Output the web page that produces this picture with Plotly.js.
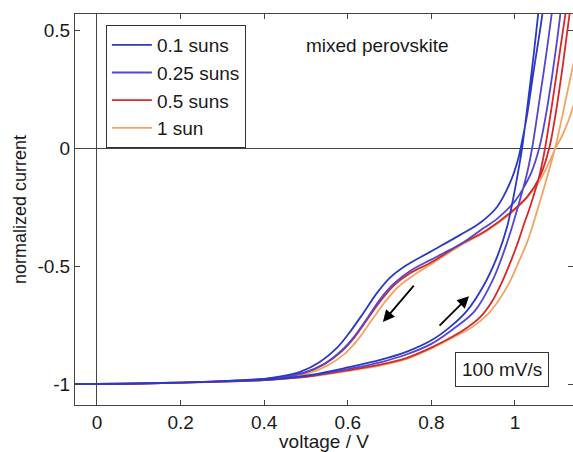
<!DOCTYPE html>
<html>
<head>
<meta charset="utf-8">
<script src="https://cdn.plot.ly/plotly-3.0.1.min.js"></script>
<style>html,body{margin:0;padding:0;background:#fff;}#chart{width:573px;height:452px;}</style>
</head>
<body>
<div id="chart"></div>
<script>
// ---- data ----
const seriesNames = ["0.1 suns", "0.25 suns", "0.5 suns", "1 sun"];
const seriesColors = ["#2a3ac4", "#5346d2", "#d82828", "#f2a464"];

// forward scans (low V -> high V)
const fwdV_01 = [-0.055, 0, 0.1, 0.2, 0.3, 0.4, 0.45, 0.517, 0.6, 0.68, 0.74, 0.8, 0.845, 0.885, 0.923, 0.957, 0.981, 0.995, 1.007, 1.017, 1.03, 1.045, 1.055, 1.07];
const fwdI_01 = [-1.0, -1.0, -0.998, -0.994, -0.989, -0.982, -0.975, -0.96, -0.93, -0.897, -0.864, -0.815, -0.758, -0.69, -0.589, -0.462, -0.335, -0.22, -0.106, 0.0, 0.18, 0.4, 0.56, 0.8];
const fwdV_025 = [-0.055, 0, 0.1, 0.2, 0.3, 0.4, 0.45, 0.517, 0.6, 0.68, 0.74, 0.8, 0.85, 0.904, 0.947, 0.983, 1.007, 1.029, 1.041, 1.06, 1.075, 1.09, 1.105];
const fwdI_025 = [-1.0, -1.0, -0.998, -0.994, -0.989, -0.983, -0.976, -0.963, -0.937, -0.907, -0.875, -0.83, -0.77, -0.69, -0.559, -0.39, -0.25, -0.106, 0.0, 0.22, 0.4, 0.6, 0.85];
const fwdV_05 = [-0.055, 0, 0.1, 0.2, 0.3, 0.4, 0.45, 0.517, 0.6, 0.677, 0.74, 0.797, 0.85, 0.885, 0.916, 0.945, 0.971, 0.99, 1.007, 1.022, 1.036, 1.06, 1.072, 1.09, 1.105, 1.12, 1.14, 1.16];
const fwdI_05 = [-1.0, -1.0, -0.998, -0.994, -0.99, -0.983, -0.977, -0.965, -0.942, -0.918, -0.89, -0.848, -0.8, -0.762, -0.718, -0.65, -0.56, -0.48, -0.4, -0.32, -0.25, -0.106, 0.0, 0.2, 0.38, 0.56, 0.82, 1.1];
const fwdV_1 = [-0.055, 0, 0.1, 0.2, 0.3, 0.4, 0.45, 0.517, 0.6, 0.677, 0.74, 0.797, 0.85, 0.895, 0.933, 0.96, 0.988, 1.01, 1.029, 1.042, 1.055, 1.077, 1.096, 1.115, 1.14, 1.16, 1.18];
const fwdI_1 = [-1.0, -1.0, -0.998, -0.995, -0.99, -0.984, -0.978, -0.967, -0.945, -0.922, -0.895, -0.852, -0.805, -0.762, -0.708, -0.648, -0.565, -0.478, -0.4, -0.33, -0.255, -0.123, 0.0, 0.15, 0.36, 0.52, 0.7];

// reverse scans (high V -> low V)
const revV_01 = [1.085, 1.065, 1.045, 1.028, 1.017, 1.007, 0.988, 0.957, 0.916, 0.868, 0.797, 0.741, 0.70, 0.67, 0.637, 0.605, 0.574, 0.533, 0.486, 0.44, 0.4, 0.3, 0.2, 0.1, 0, -0.055];
const revI_01 = [0.85, 0.56, 0.33, 0.13, 0.03, -0.051, -0.148, -0.25, -0.318, -0.369, -0.44, -0.496, -0.551, -0.614, -0.70, -0.78, -0.847, -0.907, -0.949, -0.968, -0.978, -0.988, -0.994, -0.997, -1.0, -1.0];
const revV_025 = [1.125, 1.108, 1.09, 1.072, 1.058, 1.04, 1.02, 1.0, 0.957, 0.92, 0.876, 0.83, 0.797, 0.75, 0.71, 0.68, 0.647, 0.615, 0.584, 0.543, 0.495, 0.45, 0.4, 0.3, 0.2, 0.1, 0, -0.055];
const revI_025 = [0.85, 0.56, 0.32, 0.12, 0.0, -0.1, -0.17, -0.225, -0.3, -0.345, -0.4, -0.445, -0.475, -0.52, -0.575, -0.635, -0.72, -0.8, -0.86, -0.915, -0.952, -0.969, -0.979, -0.988, -0.994, -0.997, -1.0, -1.0];
const revV_05 = [1.16, 1.13, 1.112, 1.095, 1.082, 1.06, 1.029, 0.988, 0.933, 0.868, 0.797, 0.75, 0.712, 0.682, 0.649, 0.617, 0.586, 0.545, 0.498, 0.45, 0.4, 0.3, 0.2, 0.1, 0, -0.055];
const revI_05 = [1.0, 0.56, 0.32, 0.12, 0.0, -0.12, -0.207, -0.275, -0.347, -0.41, -0.487, -0.53, -0.58, -0.64, -0.72, -0.8, -0.86, -0.915, -0.952, -0.97, -0.98, -0.989, -0.994, -0.997, -1.0, -1.0];
const revV_1 = [1.2, 1.18, 1.14, 1.115, 1.097, 1.084, 1.06, 1.029, 0.988, 0.933, 0.868, 0.797, 0.757, 0.72, 0.69, 0.657, 0.625, 0.594, 0.553, 0.505, 0.45, 0.4, 0.3, 0.2, 0.1, 0, -0.055];
const revI_1 = [0.8, 0.5, 0.18, 0.06, 0.0, -0.051, -0.136, -0.21, -0.28, -0.35, -0.415, -0.495, -0.54, -0.59, -0.65, -0.73, -0.81, -0.87, -0.92, -0.955, -0.971, -0.981, -0.989, -0.994, -0.997, -1.0, -1.0];

const xTickVals = [0, 0.2, 0.4, 0.6, 0.8, 1];
const xTickText = ["0", "0.2", "0.4", "0.6", "0.8", "1"];
const yTickVals = [-1, -0.5, 0, 0.5];
const yTickText = ["-1", "-0.5", "0", "0.5"];

// ---- build traces ----
const fwdV = [fwdV_01, fwdV_025, fwdV_05, fwdV_1];
const fwdI = [fwdI_01, fwdI_025, fwdI_05, fwdI_1];
const revV = [revV_01, revV_025, revV_05, revV_1];
const revI = [revI_01, revI_025, revI_05, revI_1];

const traces = [];
// draw 1 sun first so blue ends on top
for (let k = 3; k >= 0; k--) {
  traces.push({
    x: fwdV[k].concat(revV[k]),
    y: fwdI[k].concat(revI[k]),
    type: "scatter",
    mode: "lines",
    name: seriesNames[k],
    line: {color: seriesColors[k], width: 1.8, shape: "spline", smoothing: 1.0}
  });
}

const fam = "Liberation Sans, Arial, Helvetica, sans-serif";
const font = {family: fam, size: 19, color: "#1a1a1a"};

const layout = {
  width: 573, height: 452,
  margin: {l: 75, r: 0, t: 14, b: 47},
  paper_bgcolor: "#fff", plot_bgcolor: "#fff",
  font: font,
  showlegend: true,
  legend: {
    x: 0.062, y: 0.972, xanchor: "left", yanchor: "top",
    traceorder: "reversed",
    bordercolor: "#333", borderwidth: 1, bgcolor: "#fff",
    font: {family: fam, size: 19, color: "#1a1a1a"}, tracegroupgap: 0, itemwidth: 40
  },
  xaxis: {
    range: [-0.0526, 1.1388],
    tickvals: xTickVals, ticktext: xTickText,
    ticks: "inside", ticklen: 5, tickcolor: "#444",
    showline: true, linecolor: "#444", linewidth: 1, mirror: "ticks",
    showgrid: false, zeroline: true, zerolinecolor: "#444", zerolinewidth: 1,
    tickfont: font,
    title: {text: "voltage / V", font: font, standoff: 2}
  },
  yaxis: {
    range: [-1.089, 0.568],
    tickvals: yTickVals, ticktext: yTickText,
    ticks: "inside", ticklen: 5, tickcolor: "#444",
    showline: true, linecolor: "#444", linewidth: 1, mirror: "ticks",
    showgrid: false, zeroline: true, zerolinecolor: "#444", zerolinewidth: 1,
    tickfont: font,
    title: {text: "normalized current", font: {family: fam, size: 18, color: "#1a1a1a"}, standoff: 6}
  },
  annotations: [
    {x: 0.67, y: 0.436, xref: "x", yref: "y", text: "mixed perovskite", showarrow: false,
     font: {family: fam, size: 19, color: "#1a1a1a"}},
    {x: 0.969, y: -0.94, xref: "x", yref: "y", text: "100 mV/s", showarrow: false, font: font,
     bordercolor: "#333", borderwidth: 1, borderpad: 6, bgcolor: "#fff"},
    {x: 0.684, y: -0.737, ax: 0.761, ay: -0.577, xref: "x", yref: "y", axref: "x", ayref: "y",
     text: "", showarrow: true, arrowhead: 2, arrowsize: 1.3, arrowwidth: 1.8, arrowcolor: "#000"},
    {x: 0.890, y: -0.628, ax: 0.816, ay: -0.759, xref: "x", yref: "y", axref: "x", ayref: "y",
     text: "", showarrow: true, arrowhead: 2, arrowsize: 1.3, arrowwidth: 1.8, arrowcolor: "#000"}
  ]
};

Plotly.newPlot("chart", traces, layout, {staticPlot: true, displayModeBar: false});
</script>
</body>
</html>
